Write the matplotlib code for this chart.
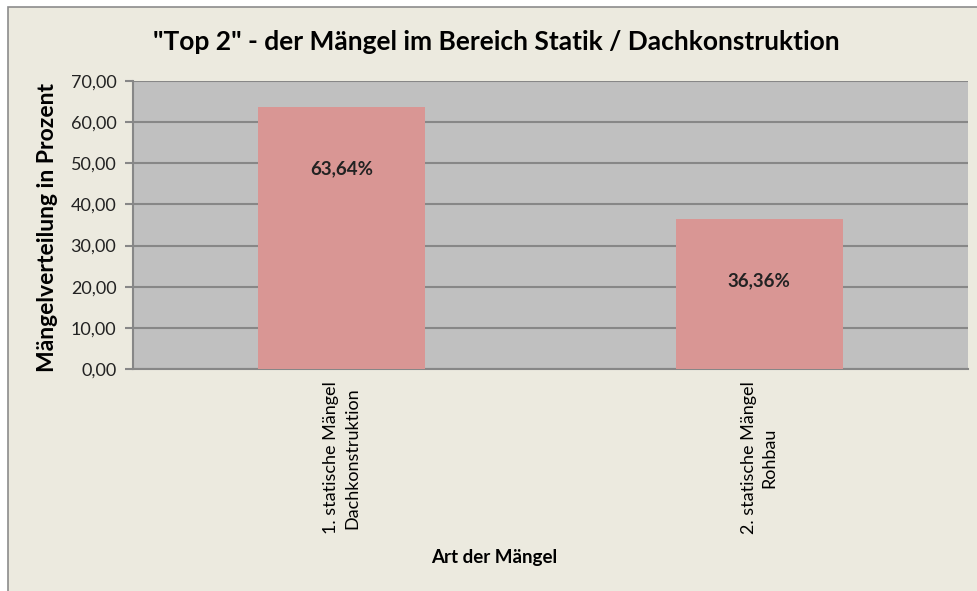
import matplotlib.pyplot as plt
from matplotlib.patches import Rectangle

categories = ["1. statische Mängel\nDachkonstruktion", "2. statische Mängel\nRohbau"]
values = [63.64, 36.36]
value_labels = ["63,64%", "36,36%"]
yticks = [0, 10, 20, 30, 40, 50, 60, 70]

bg = "#ECEADF"
plt.rcParams['font.family'] = ['Lato', 'DejaVu Sans']

fig = plt.figure(figsize=(9.78, 5.91), dpi=100)
fig.patch.set_facecolor("white")
W, H = 978, 591
fig.patches.append(Rectangle((8 / W, -0.05), 1, 1.05 - 7 / H, transform=fig.transFigure,
                             facecolor=bg, edgecolor="#8C8C8C", linewidth=1.2, zorder=-1))

ax = fig.add_axes([133 / W, 1 - 369 / H, (968 - 133) / W, (369 - 81) / H])
ax.set_facecolor("#C0C0C0")
x = range(len(categories))
bars = ax.bar(x, values, width=0.4, color="#D99694", zorder=3)
ax.set_xlim(-0.5, 1.5)
ax.set_ylim(0, 70)
ax.set_yticks(yticks)
ax.set_yticklabels([f"{v:.2f}".replace(".", ",") for v in yticks], fontsize=13, color="#222222")
ax.yaxis.grid(True, color="#878787", linewidth=1.5, zorder=1)
ax.tick_params(axis='y', length=6, color="#878787", width=1.5, pad=6)
ax.set_xticks(list(x))
ax.set_xticklabels(categories, rotation=90, fontsize=13, va="top", ha="center",
                   multialignment="center", linespacing=1.4)
ax.tick_params(axis='x', length=0, pad=9)
for s in ["top", "right"]:
    ax.spines[s].set_visible(False)
for s in ["left", "bottom"]:
    ax.spines[s].set_color("#878787")
    ax.spines[s].set_linewidth(1.5)

for b, lab in zip(bars, value_labels):
    ax.annotate(lab, (b.get_x() + b.get_width() / 2, b.get_height()),
                xytext=(0, -44), textcoords="offset points", ha="center", va="center",
                fontsize=13.5, fontweight="bold", color="#222222", zorder=4)

fig.text(496 / W, 1 - 42 / H, '"Top 2" - der Mängel im Bereich Statik / Dachkonstruktion',
         ha="center", va="center", fontsize=19, fontweight="bold")
fig.text(48 / W, 1 - 228 / H, "Mängelverteilung in Prozent", rotation=90,
         ha="center", va="center", fontsize=16.5, fontweight="bold")
fig.text(494 / W, 1 - 557 / H, "Art der Mängel", ha="center", va="center",
         fontsize=13.5, fontweight="bold")

fig.savefig("out.png", dpi=100, facecolor=fig.get_facecolor())
